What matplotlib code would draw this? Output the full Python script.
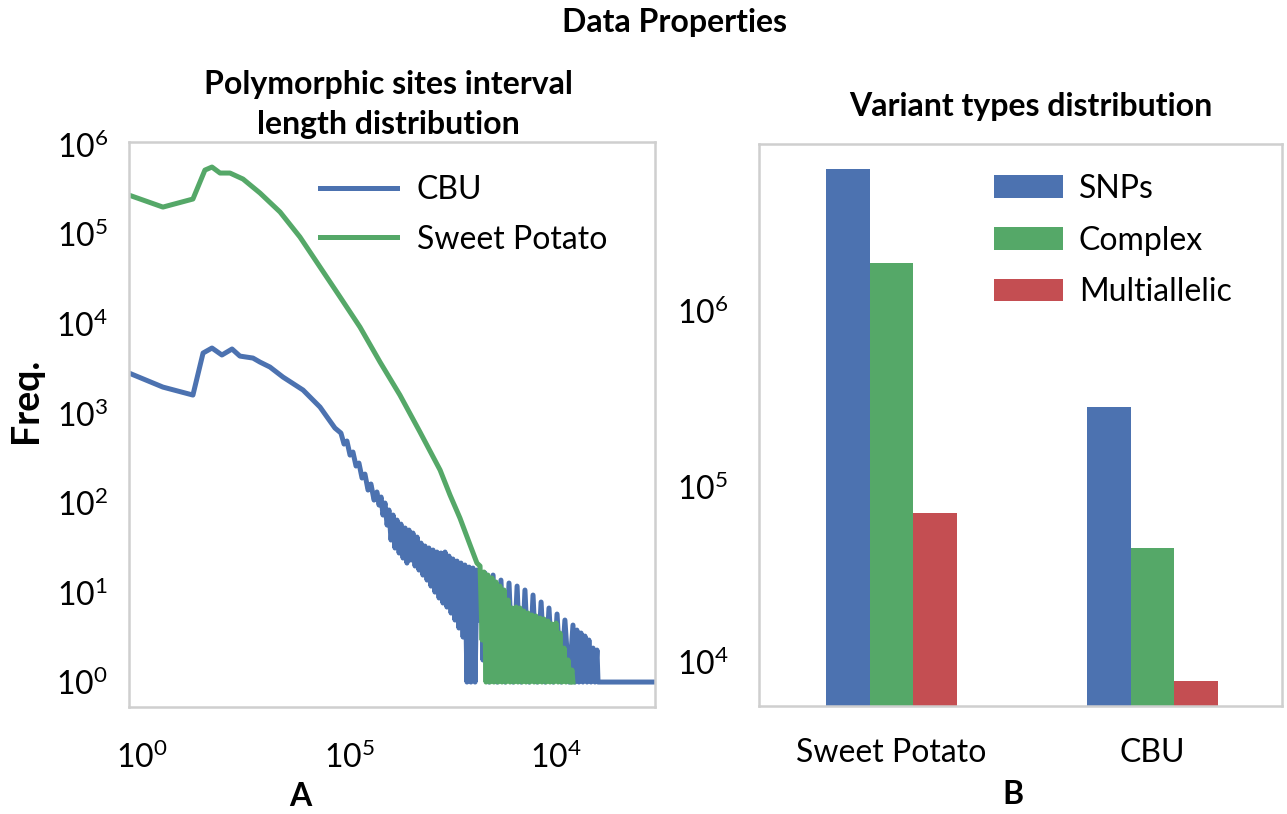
import numpy as np
import matplotlib
matplotlib.use("Agg")
import matplotlib.pyplot as plt

plt.rcParams['font.family'] = ['Lato', 'DejaVu Sans']
plt.rcParams['mathtext.default'] = 'regular'
plt.rcParams['path.simplify'] = False

# --- A: interval length distribution (log10 of length, log10 of frequency) ---
cbu_log_len = [
    -0.063, 0.101, 0.246, 0.295, 0.338, 0.386, 0.435, 0.473, 0.536, 0.570,
    0.618, 0.681, 0.778, 0.860, 0.894, 0.932,
    0.961, 0.976, 0.990, 1.005, 1.019, 1.034, 1.048, 1.063, 1.077, 1.092,
    1.106, 1.121,
    1.135, 1.145, 1.155, 1.164, 1.174, 1.184, 1.193, 1.203, 1.213, 1.222,
    1.232, 1.242, 1.251, 1.261, 1.271, 1.280, 1.290, 1.300, 1.309, 1.319,
    1.329, 1.338, 1.348, 1.357, 1.367, 1.377, 1.386, 1.396, 1.406, 1.415,
    1.425, 1.435, 1.444, 1.454, 1.464, 1.473, 1.483, 1.493, 1.502, 1.512,
    1.522, 1.531, 1.541, 1.551, 1.560, 1.570, 1.580, 1.589, 1.599, 1.609,
    1.618, 1.628, 1.638, 1.647, 1.657, 1.676, 1.696, 1.715, 1.734, 1.754,
    1.773, 1.792, 1.812, 1.831, 1.850, 1.870, 1.889, 1.908, 1.928, 1.947,
    1.966, 1.986, 2.005, 2.024, 2.043, 2.063, 2.082, 2.092, 2.101, 2.111,
    2.121, 2.130, 2.140, 2.150, 2.159, 2.169, 2.179, 2.188, 2.198, 2.203,
    2.478,
]
cbu_log_freq = [
    3.449, 3.292, 3.203, 3.672, 3.728, 3.650, 3.717, 3.638, 3.616, 3.571,
    3.516, 3.404, 3.259, 3.069, 2.958, 2.835,
    2.779, 2.656, 2.690, 2.533, 2.567, 2.411, 2.444, 2.277, 2.321, 2.143,
    2.210, 2.031,
    2.121, 1.975, 2.065, 1.864, 1.998, 1.752, 1.920, 1.585, 1.864, 1.496,
    1.808, 1.440, 1.763, 1.384, 1.719, 1.328, 1.696, 1.362, 1.663, 1.295,
    1.618, 1.250, 1.551, 1.194, 1.518, 1.138, 1.496, 1.071, 1.473, 1.004,
    1.451, 0.938, 1.440, 0.882, 1.451, 0.837, 1.406, 0.770, 1.373, 0.692,
    1.350, 0.603, 1.328, 0.502, 1.306, 0.0, 1.283, 0.0, 1.272, 0.0,
    1.250, 0.692, 1.228, 0.246, 1.217, 0.0, 1.194, 0.0, 1.138, 0.0,
    1.105, 0.0, 1.071, 0.0, 1.027, 0.0, 0.971, 0.0, 0.893, 0.0,
    0.826, 0.0, 0.759, 0.0, 0.692, 0.0, 0.636, 0.0, 0.580, 0.0,
    0.547, 0.0, 0.513, 0.0, 0.469, 0.0, 0.379, 0.0, 0.357, 0.0,
    0.0,
]

sp_log_len = [
    -0.063, 0.101, 0.246, 0.304, 0.338, 0.377, 0.425, 0.488, 0.570, 0.667,
    0.763, 0.860, 0.957, 1.053, 1.150, 1.246, 1.343, 1.440, 1.488, 1.536,
    1.585, 1.618,
    1.633, 1.643, 1.652, 1.662, 1.671, 1.681, 1.691, 1.700, 1.710, 1.720,
    1.729, 1.739, 1.749, 1.758, 1.768, 1.778, 1.787, 1.797, 1.807, 1.816,
    1.826, 1.836, 1.845, 1.855, 1.865, 1.874, 1.884, 1.894, 1.903, 1.913,
    1.923, 1.932, 1.942, 1.952, 1.961, 1.971, 1.981, 1.990, 2.000, 2.010,
    2.019, 2.029, 2.039, 2.048, 2.058, 2.068, 2.077, 2.082,
]
sp_log_freq = [
    5.435, 5.301, 5.391, 5.714, 5.748, 5.681, 5.681, 5.614, 5.458, 5.246,
    4.967, 4.632, 4.297, 3.962, 3.571, 3.203, 2.790, 2.366, 2.087, 1.830,
    1.529, 1.328,
    1.295, 0.469, 1.228, 0.0, 1.194, 0.0, 1.161, 0.0, 1.116, 0.0,
    1.071, 0.0, 1.027, 0.0, 0.915, 0.0, 0.826, 0.0, 0.837, 0.0,
    0.826, 0.0, 0.792, 0.0, 0.770, 0.0, 0.748, 0.0, 0.737, 0.0,
    0.714, 0.0, 0.703, 0.0, 0.681, 0.0, 0.647, 0.0, 0.658, 0.0,
    0.547, 0.0, 0.379, 0.0, 0.246, 0.0, 0.134, 0.0,
]

# --- B: variant types ---
species = ['Sweet Potato', 'CBU']
snps = [6.44e6, 2.85e5]
complex_v = [1.88e6, 4.47e4]
multiallelic = [7.06e4, 7.8e3]

blue = '#4C72B0'
green = '#55A868'
red = '#C44E52'
frame = '#cfcfcf'

fig = plt.figure(figsize=(12.87, 8.14), dpi=100)
ax1 = fig.add_axes([0.1002, 0.1314, 0.4087, 0.6941])
ax2 = fig.add_axes([0.5897, 0.1327, 0.4064, 0.6904])

ax1.plot(10 ** np.array(cbu_log_len), 10 ** np.array(cbu_log_freq),
         color=blue, lw=3.6, label='CBU')
ax1.plot(10 ** np.array(sp_log_len), 10 ** np.array(sp_log_freq),
         color=green, lw=3.6, label='Sweet Potato')
ax1.set_xscale('log')
ax1.set_yscale('log')
ax1.set_xlim(10 ** -0.063, 10 ** 2.478)
ax1.set_ylim(10 ** -0.279, 10 ** 6.027)
ax1.set_xticks([1, 10, 100])
ax1.set_xticklabels(['$10^{0}$', '$10^{5}$', '$10^{4}$'])
ax1.set_yticks([10 ** k for k in range(7)])
ax1.set_yticklabels(['$10^{%d}$' % k for k in range(7)])
ax1.minorticks_off()
ax1.tick_params(axis='y', length=0, pad=15, labelsize=23)
ax1.tick_params(axis='x', length=0, pad=25, labelsize=23)
ax1.legend(loc='upper left', bbox_to_anchor=(0.363, 0.942), frameon=False,
           fontsize=23, handlelength=2.4, handletextpad=0.63, labelspacing=0.62,
           borderpad=0, borderaxespad=0)

x = np.arange(len(species))
w = 0.1667
ax2.set_yscale('log')
ax2.bar(x - w, snps, w, color=blue, label='SNPs')
ax2.bar(x, complex_v, w, color=green, label='Complex')
ax2.bar(x + w, multiallelic, w, color=red, label='Multiallelic')
ax2.set_ylim(10 ** 3.749, 10 ** 6.952)
ax2.set_xlim(-0.508, 1.496)
ax2.set_xticks(x)
ax2.set_xticklabels(species)
ax2.set_yticks([1e4, 1e5, 1e6])
ax2.set_yticklabels(['$10^{4}$', '$10^{5}$', '$10^{6}$'])
ax2.minorticks_off()
ax2.tick_params(axis='y', length=0, pad=22, labelsize=23)
ax2.tick_params(axis='x', length=0, pad=23, labelsize=23)
ax2.legend(loc='upper left', bbox_to_anchor=(0.449, 0.947), frameon=False,
           fontsize=23, handlelength=2.16, handleheight=0.72, handletextpad=0.5,
           labelspacing=0.68, borderpad=0, borderaxespad=0)

for ax in (ax1, ax2):
    for s in ax.spines.values():
        s.set_color(frame)
        s.set_linewidth(1.8)

fig.text(0.5237, 0.972, 'Data Properties', ha='center', va='center',
         fontsize=23, fontweight='bold')
fig.text(0.3015, 0.8716, 'Polymorphic sites interval\nlength distribution',
         ha='center', va='center', fontsize=23, fontweight='bold',
         linespacing=1.45)
fig.text(0.801, 0.8686, 'Variant types distribution', ha='center', va='center',
         fontsize=23, fontweight='bold')
fig.text(0.0205, 0.5086, 'Freq.', ha='center', va='center', rotation=90,
         fontsize=27, fontweight='bold')
fig.text(0.233, 0.004, 'A', ha='center', va='bottom', fontsize=23,
         fontweight='bold')
fig.text(0.787, 0.006, 'B', ha='center', va='bottom', fontsize=23,
         fontweight='bold')

fig.savefig('out.png', dpi=100)
